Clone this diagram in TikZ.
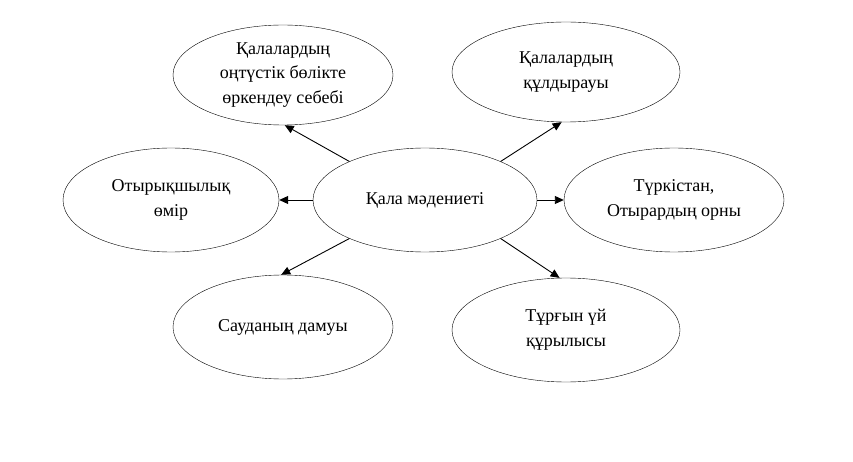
\documentclass[tikz,border=0pt]{standalone}
\usepackage{fontspec}
\setmainfont{Liberation Serif}
\usetikzlibrary{shapes.geometric,arrows.meta}
\begin{document}
\begin{tikzpicture}[x=1pt,y=-1pt,
  el/.style={ellipse,draw,inner sep=0pt,align=center,font=\fontsize{18}{24.5}\selectfont},
  arr/.style={line width=0.9pt,-{Triangle[length=9pt,width=8pt]}}]
\useasboundingbox (0,0) rectangle (853,462);
\node[el,minimum width=224,minimum height=104] (c) at (425,200) {Қала мәдениеті};
\node[el,minimum width=220,minimum height=100] (tl) at (283,75) {Қалалардың\\оңтүстік бөлікте\\өркендеу себебі};
\node[el,minimum width=228,minimum height=100] (tr) at (566,72) {Қалалардың\\құлдырауы};
\node[el,minimum width=216,minimum height=104] (l) at (171,200) {Отырықшылық\\өмір};
\node[el,minimum width=220,minimum height=104] (r) at (674,200) {Түркістан,\\Отырардың орны};
\node[el,minimum width=220,minimum height=104] (bl) at (283,327) {Сауданың дамуы};
\node[el,minimum width=228,minimum height=104] (br) at (566,330) {Тұрғын үй\\құрылысы};
\draw[arr] (c.153) -- (tl.-88);
\draw[arr] (c.27) -- (tr.265);
\draw[arr] (c.180) -- (l.0);
\draw[arr] (c.0) -- (r.180);
\draw[arr] (c.207) -- (bl.92);
\draw[arr] (c.333) -- (br.97);
\end{tikzpicture}
\end{document}
